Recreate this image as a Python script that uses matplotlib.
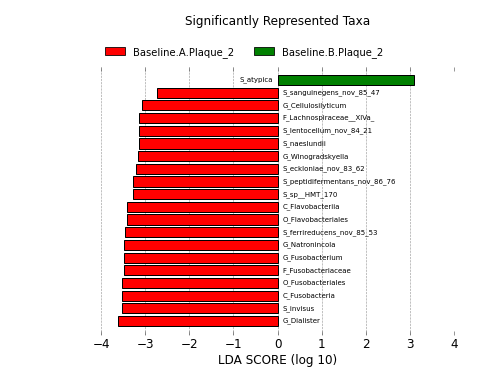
import matplotlib
matplotlib.use('Agg')
import matplotlib.pyplot as plt
from matplotlib.patches import Patch

# taxa listed top to bottom
taxa = ['S_atypica', 'S_sanguinegens_nov_85_47', 'G_Cellulosilyticum',
        'F_Lachnospiraceae__XIVa_', 'S_lentocellum_nov_84_21', 'S_naeslundii',
        'G_Winogradskyella', 'S_eckloniae_nov_83_62', 'S_peptidifermentans_nov_86_76',
        'S_sp__HMT_170', 'C_Flavobacteriia', 'O_Flavobacteriales',
        'S_ferrireducens_nov_85_53', 'G_Natronincola', 'G_Fusobacterium',
        'F_Fusobacteriaceae', 'O_Fusobacteriales', 'C_Fusobacteria',
        'S_invisus', 'G_Dialister']
lda = [3.09, -2.72, -3.08, -3.13, -3.13, -3.15, -3.17, -3.20, -3.27, -3.27,
       -3.40, -3.40, -3.45, -3.47, -3.47, -3.49, -3.52, -3.52, -3.52, -3.61]
groups = ['Baseline.A.Plaque_2', 'Baseline.B.Plaque_2']
colors = ['#ff0000', '#008000']

fig = plt.figure(figsize=(7, 5.25), dpi=72)
ax = fig.add_axes([0.2004, 0.1138, 0.7004, 0.709])

n = len(taxa)
ypos = [n - 1 - i for i in range(n)]
bar_cols = [colors[1] if v > 0 else colors[0] for v in lda]
ax.barh(ypos, lda, height=0.8, color=bar_cols, edgecolor='black', linewidth=1)

for y, name, v in zip(ypos, taxa, lda):
    if v < 0:
        ax.text(0.11, y, name, ha='left', va='center', fontsize=7)
    else:
        ax.text(-0.11, y, name, ha='right', va='center', fontsize=7)

ax.set_xlim(-4, 4)
ax.set_ylim(-1.1, n - 1 + 1.03)
ax.set_xticks(range(-4, 5))
ax.set_yticks([])
for s in ax.spines.values():
    s.set_visible(False)
ax.tick_params(axis='x', direction='in', top=True, bottom=True, length=4,
               labelsize=12, width=0.6, color='#555555')
ax.xaxis.grid(True, linestyle='--', color='#999999', linewidth=0.6)
ax.set_axisbelow(True)
ax.set_xlabel('LDA SCORE (log 10)', fontsize=12, labelpad=3)

fig.text(0.551, 0.944, 'Significantly Represented Taxa', ha='center', va='center', fontsize=12)

handles = [Patch(facecolor=c, edgecolor='black', linewidth=0.8) for c in colors]
fig.legend(handles, groups, loc='center', bbox_to_anchor=(0.484, 0.862), ncol=2,
           frameon=False, fontsize=10, handlelength=2.0, handleheight=0.8,
           handletextpad=0.8, columnspacing=2.0)

fig.savefig('out.png', dpi=72)
